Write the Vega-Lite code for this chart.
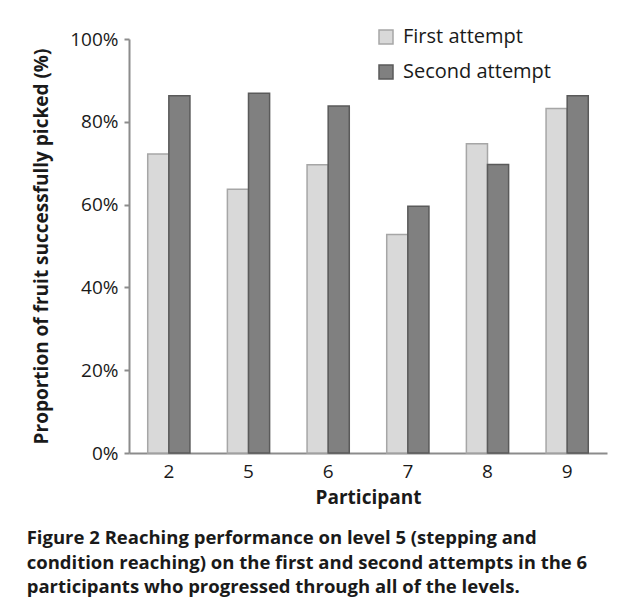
{
  "$schema": "https://vega.github.io/schema/vega-lite/v6.json",
  "width": 478,
  "height": 414,
  "autosize": {"type": "none"},
  "padding": {"left": 129, "top": 39, "right": 22, "bottom": 150},
  "background": "white",
  "data": {
    "values": [
      {"participant": "2", "attempt": "First attempt", "proportion": 0.722},
      {"participant": "2", "attempt": "Second attempt", "proportion": 0.863},
      {"participant": "5", "attempt": "First attempt", "proportion": 0.637},
      {"participant": "5", "attempt": "Second attempt", "proportion": 0.869},
      {"participant": "6", "attempt": "First attempt", "proportion": 0.696},
      {"participant": "6", "attempt": "Second attempt", "proportion": 0.838},
      {"participant": "7", "attempt": "First attempt", "proportion": 0.528},
      {"participant": "7", "attempt": "Second attempt", "proportion": 0.596},
      {"participant": "8", "attempt": "First attempt", "proportion": 0.747},
      {"participant": "8", "attempt": "Second attempt", "proportion": 0.697},
      {"participant": "9", "attempt": "First attempt", "proportion": 0.832},
      {"participant": "9", "attempt": "Second attempt", "proportion": 0.863}
    ]
  },
  "mark": {"type": "bar", "strokeWidth": 1.5},
  "encoding": {
    "x": {
      "field": "participant",
      "type": "nominal",
      "sort": ["2", "5", "6", "7", "8", "9"],
      "scale": {"paddingInner": 0.47, "paddingOuter": 0.235},
      "title": "Participant",
      "axis": {
        "labelAngle": 0,
        "ticks": false,
        "labelPadding": 9,
        "titlePadding": 7,
        "domainColor": "#8c8c8c",
        "domainWidth": 2
      }
    },
    "xOffset": {"field": "attempt", "sort": ["First attempt", "Second attempt"]},
    "y": {
      "field": "proportion",
      "type": "quantitative",
      "scale": {"domain": [0, 1]},
      "title": "Proportion of fruit successfully picked (%)",
      "axis": {
        "format": "%",
        "values": [0, 0.2, 0.4, 0.6, 0.8, 1],
        "grid": false,
        "tickSize": 5,
        "tickColor": "#8c8c8c",
        "tickWidth": 2,
        "domainColor": "#8c8c8c",
        "domainWidth": 2,
        "labelPadding": 6,
        "titlePadding": 18
      }
    },
    "color": {
      "field": "attempt",
      "type": "nominal",
      "scale": {"domain": ["First attempt", "Second attempt"], "range": ["#d9d9d9", "#808080"]},
      "legend": {
        "title": null,
        "orient": "none",
        "legendX": 247,
        "legendY": -12,
        "symbolType": "square",
        "symbolSize": 196,
        "symbolStrokeWidth": 1.5,
        "labelFontSize": 20,
        "labelOffset": 7,
        "rowPadding": 15,
        "padding": 0
      }
    },
    "stroke": {
      "field": "attempt",
      "type": "nominal",
      "scale": {"domain": ["First attempt", "Second attempt"], "range": ["#a6a6a6", "#5a5a5a"]},
      "legend": {
        "title": null,
        "orient": "none",
        "legendX": 247,
        "legendY": -12,
        "symbolType": "square",
        "symbolSize": 196,
        "symbolStrokeWidth": 1.5,
        "labelFontSize": 20,
        "labelOffset": 7,
        "rowPadding": 15,
        "padding": 0
      }
    }
  },
  "title": {
    "text": [
      "Figure 2 Reaching performance on level 5 (stepping and",
      "condition reaching) on the first and second attempts in the 6",
      "participants who progressed through all of the levels."
    ],
    "orient": "bottom",
    "anchor": "start",
    "frame": "bounds",
    "align": "left",
    "dx": -6,
    "offset": 22,
    "font": "Open Sans",
    "fontSize": 18.5,
    "fontWeight": 700,
    "lineHeight": 24.5,
    "color": "#1a1a1a"
  },
  "config": {
    "font": "Open Sans",
    "view": {"stroke": null},
    "axis": {
      "labelFont": "Open Sans",
      "labelFontSize": 19,
      "labelColor": "#1a1a1a",
      "titleFont": "Open Sans",
      "titleFontSize": 19,
      "titleFontWeight": "bold",
      "titleColor": "#1a1a1a"
    },
    "legend": {"labelFont": "Open Sans", "labelColor": "#1a1a1a"}
  }
}
